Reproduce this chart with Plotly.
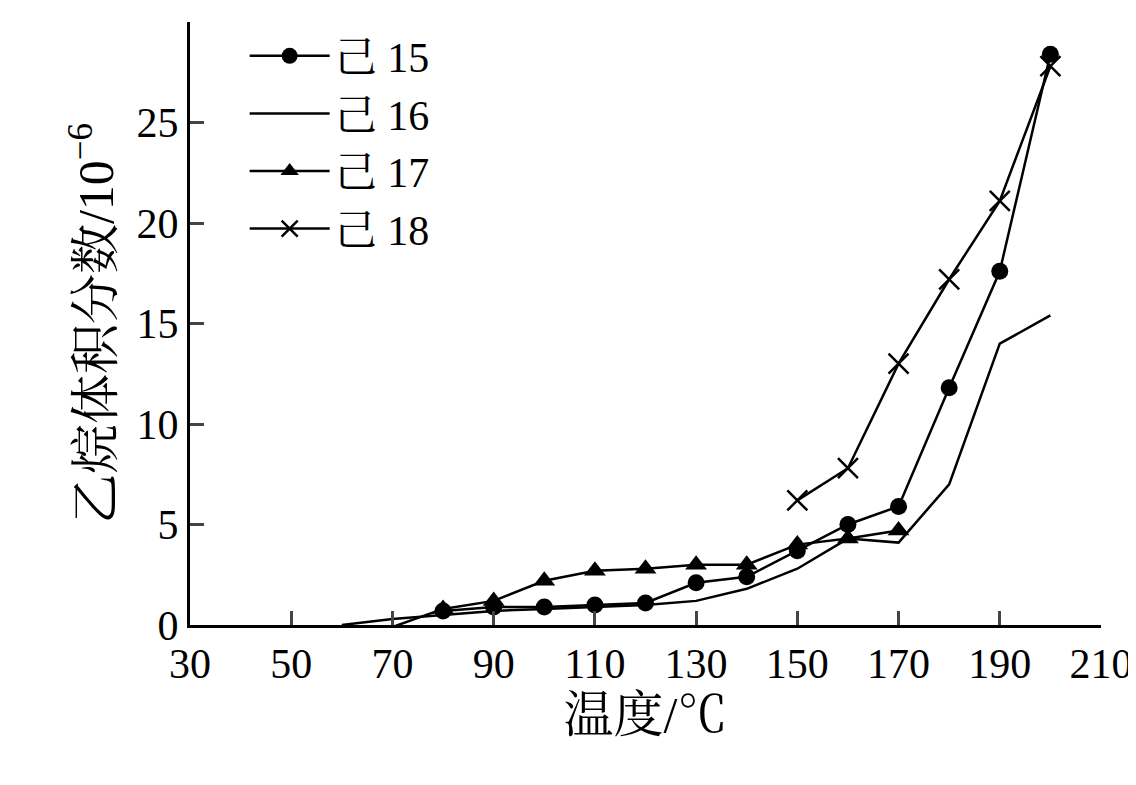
import plotly.graph_objects as go

x15 = [80, 90, 100, 110, 120, 130, 140, 150, 160, 170, 180, 190, 200]
y15 = [0.7, 0.9, 0.9, 1.0, 1.1, 2.1, 2.4, 3.7, 5.0, 5.9, 11.8, 17.6, 28.4]

x16 = [60, 70, 80, 90, 100, 110, 120, 130, 140, 150, 160, 170, 180, 190, 200]
y16 = [0, 0.3, 0.5, 0.7, 0.8, 0.9, 1.0, 1.2, 1.8, 2.8, 4.3, 4.1, 7.0, 14.0, 15.4]

x17 = [40, 50, 60, 70, 80, 90, 100, 110, 120, 130, 140, 150, 160, 170]
y17 = [-0.1, -0.1, -0.1, -0.1, 0.8, 1.2, 2.2, 2.7, 2.8, 3.0, 3.0, 4.0, 4.3, 4.7]

x18 = [150, 160, 170, 180, 190, 200]
y18 = [6.2, 7.8, 13.0, 17.2, 21.1, 27.8]

FONT = 'Liberation Serif, Noto Serif CJK SC, Noto Sans CJK SC'

fig = go.Figure()
fig.add_scatter(x=x15, y=y15, name='己 15', mode='lines+markers',
                line=dict(color='black', width=2.5), marker=dict(symbol='circle', size=17, color='black'))
fig.add_scatter(x=x16, y=y16, name='己 16', mode='lines',
                line=dict(color='black', width=2.5))
fig.add_scatter(x=x17, y=y17, name='己 17', mode='lines+markers',
                line=dict(color='black', width=2.5), marker=dict(symbol='triangle-up', size=19, color='black'))
fig.add_scatter(x=x18, y=y18, name='己 18', mode='lines+markers',
                line=dict(color='black', width=2.5),
                marker=dict(symbol='x-thin', size=20, color='black', line=dict(width=2.5, color='black')))

fig.update_layout(
    width=1136, height=785, plot_bgcolor='white', paper_bgcolor='white',
    margin=dict(l=182, r=43, t=14, b=168),
    font=dict(family=FONT, size=42, color='black'),
    legend=dict(x=0.06, y=1.0, xanchor='left', yanchor='top', bgcolor='rgba(0,0,0,0)',
                font=dict(size=42), tracegroupgap=0, itemwidth=80),
    xaxis=dict(range=[30, 210], tickvals=list(range(30, 211, 20)), showline=True, linecolor='black',
               linewidth=3, ticks='inside', ticklen=14, tickwidth=3, showgrid=False, zeroline=False,
               title=dict(text='温度/℃', standoff=8)),
    yaxis=dict(range=[0, 30], tickvals=list(range(0, 31, 5)), showline=True, linecolor='black',
               linewidth=3, ticks='inside', ticklen=14, tickwidth=3, showgrid=False, zeroline=False,
               title=dict(text='乙烷体积分数/10<sup>−6</sup>', standoff=8)),
    showlegend=True,
)
fig.update_traces(cliponaxis=False)

fig.write_html('out.html')
